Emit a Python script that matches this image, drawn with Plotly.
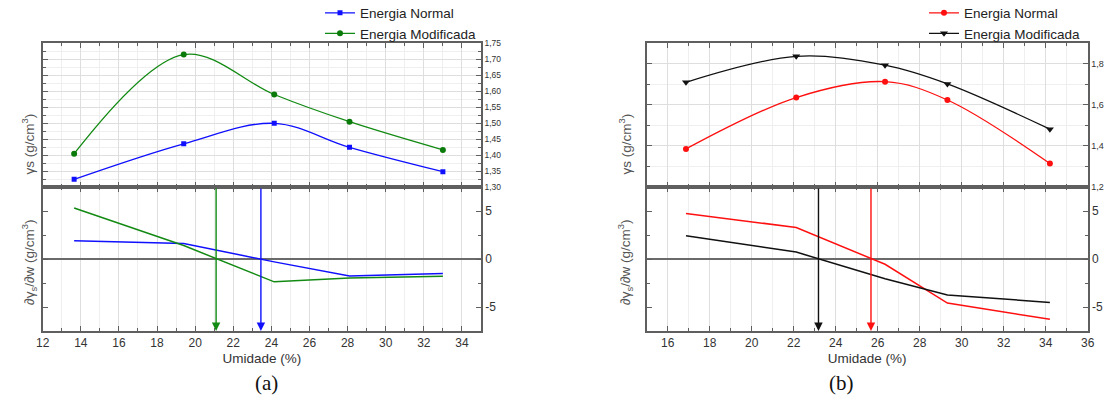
import plotly.graph_objects as go

# ---------------- Panel (a) ----------------
umid_a = [13.65, 19.4, 24.15, 28.1, 33.0]
gs_normal_a = [1.324, 1.435, 1.499, 1.424, 1.348]
gs_mod_a = [1.404, 1.714, 1.589, 1.504, 1.416]
dgs_normal_a = [1.9, 1.62, -0.3, -1.76, -1.52]
dgs_mod_a = [5.31, 1.4, -2.38, -1.97, -1.79]
wot_a = [23.45, 21.1]          # optimum moisture: normal, modificada

# ---------------- Panel (b) ----------------
umid_b = [16.87, 22.12, 26.35, 29.32, 34.2]
gs_normal_b = [1.385, 1.635, 1.712, 1.623, 1.314]
gs_mod_b = [1.709, 1.835, 1.792, 1.701, 1.481]
dgs_normal_b = [4.75, 3.28, -0.55, -4.59, -6.28]
dgs_mod_b = [2.42, 0.72, -2.05, -3.76, -4.52]
wot_b = [25.68, 23.18]

series_names = ["Energia Normal", "Energia Modificada"]
d_tickvals = [-5, 0, 5]
d_ticktext = ["-5", "0", "5"]

W, H = 1105, 412
BLUE, GREEN, RED, BLACK = "#1010ff", "#138a13", "#ff1010", "#111111"
FRAME = "#5f5f5f"
GRID = "#dedede"
GRIDMINOR = "#efefef"
FONT = "Liberation Sans"

fig = go.Figure()

# top-left
fig.add_trace(go.Scatter(x=umid_a, y=gs_normal_a, name=series_names[0], mode="lines+markers",
                         line=dict(color=BLUE, width=1.3, shape="spline", smoothing=1.0),
                         marker=dict(symbol="square", size=5, color=BLUE),
                         xaxis="x", yaxis="y", legend="legend"))
fig.add_trace(go.Scatter(x=umid_a, y=gs_mod_a, name=series_names[1], mode="lines+markers",
                         line=dict(color=GREEN, width=1.3, shape="spline", smoothing=1.0),
                         marker=dict(symbol="circle", size=6, color="#0a7a0a"),
                         xaxis="x", yaxis="y", legend="legend"))
# bottom-left
fig.add_trace(go.Scatter(x=umid_a, y=dgs_normal_a, mode="lines", showlegend=False,
                         line=dict(color=BLUE, width=1.5), xaxis="x2", yaxis="y2"))
fig.add_trace(go.Scatter(x=umid_a, y=dgs_mod_a, mode="lines", showlegend=False,
                         line=dict(color=GREEN, width=1.5), xaxis="x2", yaxis="y2"))
# top-right
fig.add_trace(go.Scatter(x=umid_b, y=gs_normal_b, name=series_names[0], mode="lines+markers",
                         line=dict(color=RED, width=1.3, shape="spline", smoothing=1.0),
                         marker=dict(symbol="circle", size=6, color=RED),
                         xaxis="x3", yaxis="y3", legend="legend2"))
fig.add_trace(go.Scatter(x=umid_b, y=gs_mod_b, name=series_names[1], mode="lines+markers",
                         line=dict(color=BLACK, width=1.3, shape="spline", smoothing=1.0),
                         marker=dict(symbol="triangle-down", size=7, color=BLACK),
                         xaxis="x3", yaxis="y3", legend="legend2"))
# bottom-right
fig.add_trace(go.Scatter(x=umid_b, y=dgs_normal_b, mode="lines", showlegend=False,
                         line=dict(color=RED, width=1.5), xaxis="x4", yaxis="y4"))
fig.add_trace(go.Scatter(x=umid_b, y=dgs_mod_b, mode="lines", showlegend=False,
                         line=dict(color=BLACK, width=1.5), xaxis="x4", yaxis="y4"))

xl = [42.7 / W, 481 / W]
xr = [646.7 / W, 1087.7 / W]
ytop = [1 - 187 / H, 1 - 43 / H]
ybot = [1 - 331 / H, 1 - 187 / H]


def xaxis(domain, rng, anchor, labels):
    return dict(domain=domain, range=rng, anchor=anchor, dtick=2, tick0=0,
                showticklabels=labels, ticks="inside", ticklen=5, tickwidth=1, tickcolor=FRAME,
                showline=True, linecolor=FRAME, linewidth=1.6, mirror="allticks",
                showgrid=True, gridcolor=GRID, gridwidth=1, zeroline=False,
                tickfont=dict(family=FONT, size=12, color="#333"),
                minor=dict(dtick=1, ticks="inside", ticklen=3, tickcolor=FRAME,
                           showgrid=True, gridcolor=GRIDMINOR),
                title=dict(text="Umidade (%)" if labels else "",
                           font=dict(family=FONT, size=13.5, color="#333"), standoff=4))


def yaxis(domain, rng, anchor, dtick, mdtick, fmt, fsize, **kw):
    d = dict(domain=domain, range=rng, anchor=anchor, side="right", dtick=dtick,
             ticks="inside", ticklen=5, tickwidth=1, tickcolor=FRAME, tickformat=fmt,
             showline=True, linecolor=FRAME, linewidth=1.6, mirror="allticks",
             showgrid=True, gridcolor=GRID, zeroline=False,
             tickfont=dict(family=FONT, size=fsize, color="#333"),
             minor=dict(dtick=mdtick, ticks="inside", ticklen=3, tickcolor=FRAME,
                        showgrid=True, gridcolor=GRIDMINOR))
    d.update(kw)
    return d


fig.update_layout(
    width=W, height=H, margin=dict(l=0, r=0, t=0, b=0, autoexpand=False),
    paper_bgcolor="white", plot_bgcolor="white", separators=",.",
    xaxis=xaxis(xl, [12, 35], "y", False),
    yaxis=yaxis(ytop, [1.30, 1.75], "x", 0.05, 0.025, ".2f", 8.5, tick0=1.30),
    xaxis2=xaxis(xl, [12, 35], "y2", True),
    yaxis2=yaxis(ybot, [-7.5, 7.5], "x2", 5, 2.5, "", 12,
                 tickmode="array", tickvals=d_tickvals, ticktext=d_ticktext,
                 zeroline=True, zerolinecolor="#6a6a6a", zerolinewidth=1.6, showgrid=False,
                 minor=dict(tickvals=[-5, -2.5, 0, 2.5, 5], ticks="inside", ticklen=3,
                            tickcolor=FRAME, showgrid=False)),
    xaxis3=xaxis(xr, [15, 36], "y3", False),
    yaxis3=yaxis(ytop, [1.2, 1.9], "x3", 0.2, 0.1, ".1f", 9, tick0=1.2),
    xaxis4=xaxis(xr, [15, 36], "y4", True),
    yaxis4=yaxis(ybot, [-7.5, 7.5], "x4", 5, 2.5, "", 12,
                 tickmode="array", tickvals=d_tickvals, ticktext=d_ticktext,
                 zeroline=True, zerolinecolor="#6a6a6a", zerolinewidth=1.6, showgrid=False,
                 minor=dict(tickvals=[-5, -2.5, 0, 2.5, 5], ticks="inside", ticklen=3,
                            tickcolor=FRAME, showgrid=False)),
    legend=dict(x=320 / W, y=1 + 2.5 / H, xanchor="left", yanchor="top",
                bgcolor="rgba(0,0,0,0)", font=dict(family=FONT, size=13.5, color="#222"),
                tracegroupgap=0, itemwidth=30),
    legend2=dict(x=924 / W, y=1 + 2.5 / H, xanchor="left", yanchor="top",
                 bgcolor="rgba(0,0,0,0)", font=dict(family=FONT, size=13.5, color="#222"),
                 tracegroupgap=0, itemwidth=30),
    showlegend=True,
)

# optimum-moisture arrows
arrows = [("x2", "y2", wot_a[0], BLUE), ("x2", "y2", wot_a[1], GREEN),
          ("x4", "y4", wot_b[0], RED), ("x4", "y4", wot_b[1], BLACK)]
for xa, ya, xv, col in arrows:
    fig.add_annotation(x=xv, y=-7.5, ax=xv, ay=7.5, xref=xa, yref=ya, axref=xa, ayref=ya,
                       showarrow=True, arrowhead=2, arrowsize=1.2, arrowwidth=1.4,
                       arrowcolor=col, text="", standoff=0, startstandoff=0)

# y-axis titles
TCOL = "#555"
for xc in (17 / W, 625 / W):
    fig.add_annotation(x=xc, y=1 - 112 / H, xref="paper", yref="paper", showarrow=False,
                       text="γs (g/cm<sup>3</sup>)", textangle=-90,
                       font=dict(family=FONT, size=13.5, color=TCOL))
    fig.add_annotation(x=xc, y=1 - 262 / H, xref="paper", yref="paper", showarrow=False,
                       text="∂γ<sub>s</sub>/∂w (g/cm<sup>3</sup>)", textangle=-90,
                       font=dict(family=FONT, size=13.5, color=TCOL))

# panel letters
for xc, lab in ((253 / W, "(a)"), (856 / W, "(b)")):
    fig.add_annotation(x=xc, y=1 - 397 / H, xref="paper", yref="paper", showarrow=False,
                       text=lab, font=dict(family="Liberation Serif", size=21, color="#111"))

fig.write_html("out.html", config={"displayModeBar": False},
               post_script="document.body.style.margin='0px';")
